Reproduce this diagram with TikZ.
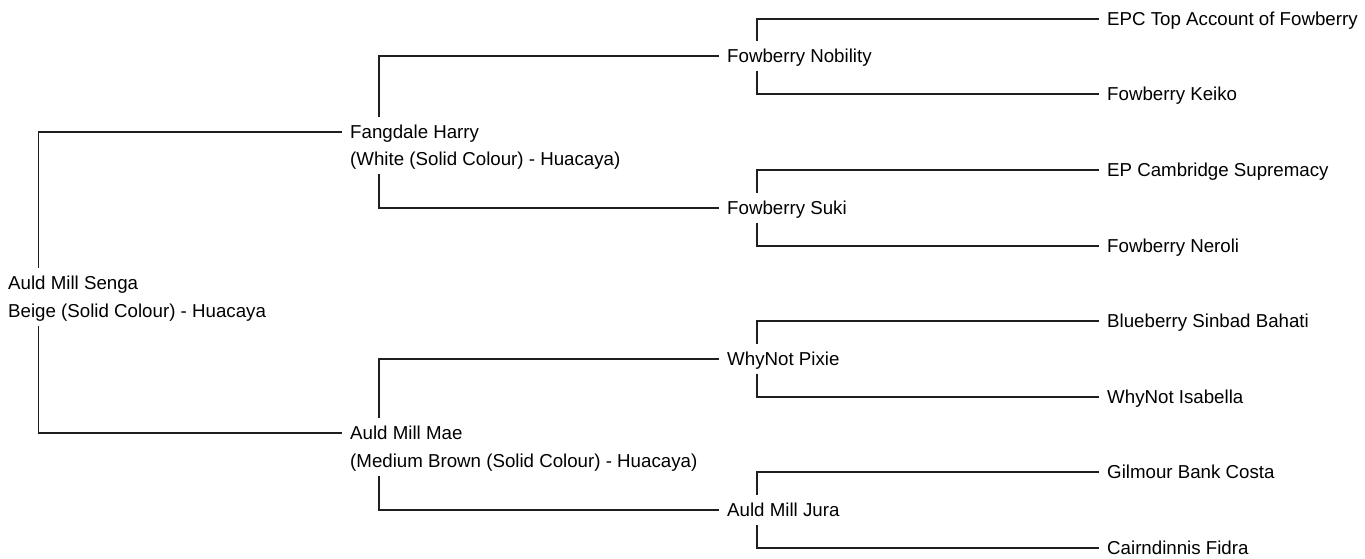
\documentclass[tikz,border=0pt]{standalone}
\usepackage{fontspec}
\setmainfont{Liberation Sans}
\tikzset{
  lbl/.style={anchor=west, inner xsep=8pt, inner ysep=8.4pt, text height=13.4pt, text depth=0pt,
    font=\fontsize{18.7}{22}\selectfont, text=black},
  link/.style={line width=1.1pt, draw=black!88}
}
\begin{document}
\begin{tikzpicture}[x=1pt,y=1pt]
\useasboundingbox (0,0) rectangle (1365,-558);
% generation 0
\node[lbl] (senga)  at (0,-283) {Auld Mill Senga};
\node[lbl] (sengaS) at (0,-311) {Beige (Solid Colour) - Huacaya};
% generation 1
\node[lbl] (harry)  at (342,-132) {Fangdale Harry};
\node[lbl] (harryS) at (342,-159) {(White (Solid Colour) - Huacaya)};
\node[lbl] (mae)    at (342,-433) {Auld Mill Mae};
\node[lbl] (maeS)   at (342,-461) {(Medium Brown (Solid Colour) - Huacaya)};
% generation 2
\node[lbl] (nobility) at (719,-56)  {Fowberry Nobility};
\node[lbl] (suki)     at (719,-208) {Fowberry Suki};
\node[lbl] (pixie)    at (719,-359) {WhyNot Pixie};
\node[lbl] (jura)     at (719,-510) {Auld Mill Jura};
% generation 3
\node[lbl] (epc)    at (1099,-19)  {EPC Top Account of Fowberry};
\node[lbl] (keiko)  at (1099,-94)  {Fowberry Keiko};
\node[lbl] (camb)   at (1099,-170) {EP Cambridge Supremacy};
\node[lbl] (neroli) at (1099,-246) {Fowberry Neroli};
\node[lbl] (blue)   at (1099,-321) {Blueberry Sinbad Bahati};
\node[lbl] (isab)   at (1099,-397) {WhyNot Isabella};
\node[lbl] (gil)    at (1099,-472) {Gilmour Bank Costa};
\node[lbl] (cair)   at (1099,-548) {Cairndinnis Fidra};
% vertical rails
\coordinate (v0) at (38.5,0);
\coordinate (v1) at (379,0);
\coordinate (v2) at (757,0);
% connectors
\draw[link] (harry.west) -| (v0 |- senga.north);
\draw[link] (mae.west)   -| (v0 |- sengaS.south);
\draw[link] (nobility.west) -| (v1 |- harry.north);
\draw[link] (suki.west)     -| (v1 |- harryS.south);
\draw[link] (pixie.west)    -| (v1 |- mae.north);
\draw[link] (jura.west)     -| (v1 |- maeS.south);
\draw[link] (epc.west)    -| (v2 |- nobility.north);
\draw[link] (keiko.west)  -| (v2 |- nobility.south);
\draw[link] (camb.west)   -| (v2 |- suki.north);
\draw[link] (neroli.west) -| (v2 |- suki.south);
\draw[link] (blue.west)   -| (v2 |- pixie.north);
\draw[link] (isab.west)   -| (v2 |- pixie.south);
\draw[link] (gil.west)    -| (v2 |- jura.north);
\draw[link] (cair.west)   -| (v2 |- jura.south);
\end{tikzpicture}
\end{document}
